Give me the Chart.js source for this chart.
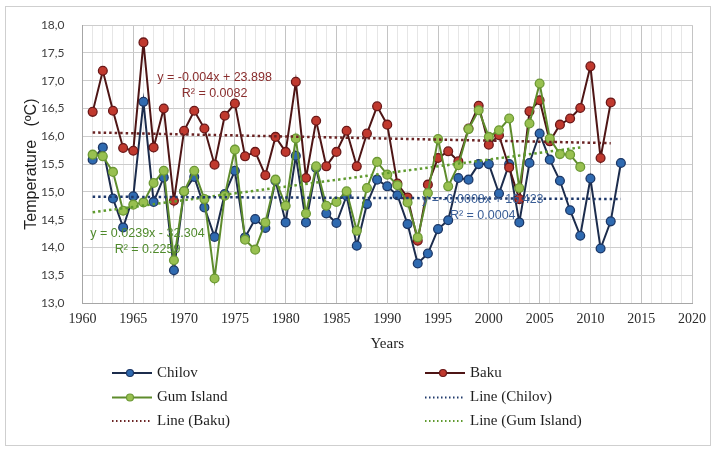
<!DOCTYPE html>
<html>
<head>
<meta charset="utf-8">
<script src="https://cdn.jsdelivr.net/npm/chart.js@4.4.1/dist/chart.umd.min.js"></script>
<style>
  html, body { margin: 0; padding: 0; background: #fff; }
</style>
</head>
<body>
<canvas id="myChart" width="714" height="450"></canvas>
<script>
// values (°C per year)
const years = [1961, 1962, 1963, 1964, 1965, 1966, 1967, 1968, 1969, 1970,
  1971, 1972, 1973, 1974, 1975, 1976, 1977, 1978, 1979, 1980,
  1981, 1982, 1983, 1984, 1985, 1986, 1987, 1988, 1989, 1990,
  1991, 1992, 1993, 1994, 1995, 1996, 1997, 1998, 1999, 2000,
  2001, 2002, 2003, 2004, 2005, 2006, 2007, 2008, 2009, 2010,
  2011, 2012, 2013];

const chilov = [15.58, 15.80, 14.88, 14.36, 14.92, 16.62, 14.82, 15.26, 13.59, 15.01,
  15.27, 14.72, 14.19, 14.96, 15.38, 14.18, 14.51, 14.35, 15.20, 14.45,
  15.65, 14.45, 15.43, 14.61, 14.44, 14.93, 14.03, 14.78, 15.22, 15.10,
  14.94, 14.42, 13.71, 13.89, 14.33, 14.49, 15.25, 15.22, 15.50, 15.50,
  14.97, 15.50, 14.45, 15.52, 16.05, 15.58, 15.20, 14.67, 14.21, 15.24,
  13.98, 14.47, 15.52];

const baku = [16.44, 17.18, 16.46, 15.79, 15.74, 17.69, 15.80, 16.50, 14.84, 16.10,
  16.46, 16.14, 15.49, 16.37, 16.59, 15.64, 15.72, 15.30, 15.99, 15.72,
  16.98, 15.25, 16.28, 15.46, 15.72, 16.10, 15.46, 16.05, 16.54, 16.21,
  15.15, 14.90, 14.12, 15.13, 15.61, 15.73, 15.55, 16.14, 16.55, 15.85,
  16.02, 15.44, 14.87, 16.45, 16.65, 15.91, 16.21, 16.32, 16.51, 17.26,
  15.61, 16.61];

const gumIsland = [15.67, 15.64, 15.36, 14.66, 14.77, 14.81, 15.16, 15.38, 13.77, 15.01,
  15.38, 14.87, 13.44, 14.93, 15.76, 14.14, 13.96, 14.45, 15.22, 14.75,
  15.96, 14.61, 15.46, 14.75, 14.82, 15.01, 14.30, 15.07, 15.54, 15.31,
  15.12, 14.81, 14.18, 14.98, 15.95, 15.10, 15.48, 16.13, 16.47, 15.99,
  16.11, 16.32, 15.07, 16.23, 16.95, 15.96, 15.68, 15.67, 15.45];

// trendline equation labels as printed on the figure
const trendText = [
  { lines: ['y = -0.004x + 23.898', 'R² = 0.0082'], x: 1973.0, y: 17.05, color: '#8a2e2e' },
  { lines: ['y = 0.0239x - 32.304', 'R² = 0.2259'], x: 1966.4, y: 14.25, color: '#4f8a2b' },
  { lines: ['y = -0.0008x + 16.423', 'R² = 0.0004'], x: 1999.4, y: 14.86, color: '#3a5e96' }
];

function points(vals) {
  return vals.map((v, i) => ({ x: years[i], y: v }));
}

// least squares line over the series' own years
function fitLine(vals) {
  const n = vals.length;
  const xs = years.slice(0, n);
  const mx = xs.reduce((a, b) => a + b, 0) / n;
  const my = vals.reduce((a, b) => a + b, 0) / n;
  let sxy = 0, sxx = 0;
  for (let i = 0; i < n; i++) {
    sxy += (xs[i] - mx) * (vals[i] - my);
    sxx += (xs[i] - mx) * (xs[i] - mx);
  }
  const b = sxy / sxx, a = my - b * mx;
  return [{ x: xs[0], y: a + b * xs[0] }, { x: xs[n - 1], y: a + b * xs[n - 1] }];
}

const seriesBase = { borderWidth: 2, pointRadius: 4.4, pointBorderWidth: 1.3, tension: 0 };
const trendBase = { borderWidth: 2.5, borderDash: [2.5, 3], pointRadius: 0, order: 0 };

const data = {
  datasets: [
    { ...seriesBase, label: 'Chilov', data: points(chilov), borderColor: '#1c2c4c',
      pointBackgroundColor: '#2f6ab0', pointBorderColor: '#1c3766', order: 3 },
    { ...seriesBase, label: 'Baku', data: points(baku), borderColor: '#4e1515',
      pointBackgroundColor: '#c0392e', pointBorderColor: '#6a1818', order: 2 },
    { ...seriesBase, label: 'Gum Island', data: points(gumIsland), borderColor: '#5e8c2c',
      pointBackgroundColor: '#98c050', pointBorderColor: '#6c9934', order: 1 },
    { ...trendBase, label: 'Line (Chilov)', data: fitLine(chilov), borderColor: '#1e386a' },
    { ...trendBase, label: 'Line (Baku)', data: fitLine(baku), borderColor: '#6a2323' },
    { ...trendBase, label: 'Line (Gum Island)', data: fitLine(gumIsland), borderColor: '#5f9a2e' }
  ]
};

// two-column legend under the axis, like the original
const legendSlots = {
  'Chilov': [112, 373], 'Baku': [425, 373],
  'Gum Island': [112, 397.5], 'Line (Chilov)': [425, 397.5],
  'Line (Baku)': [112, 421], 'Line (Gum Island)': [425, 421]
};

const framePlugin = {
  id: 'frame',
  beforeDraw(chart) {
    const ctx = chart.ctx;
    ctx.save();
    ctx.fillStyle = '#fff';
    ctx.fillRect(0, 0, chart.width, chart.height);
    ctx.strokeStyle = '#cfcfcf';
    ctx.lineWidth = 1;
    ctx.strokeRect(5.5, 6.5, 705, 439);
    ctx.restore();
  },
  afterDatasetsDraw(chart) {
    const ctx = chart.ctx, xs = chart.scales.x, ys = chart.scales.y;
    ctx.save();
    ctx.font = '12.5px "Liberation Sans", Arial, sans-serif';
    ctx.textAlign = 'center';
    ctx.textBaseline = 'middle';
    trendText.forEach(t => {
      const px = xs.getPixelForValue(t.x), py = ys.getPixelForValue(t.y);
      ctx.fillStyle = t.color;
      t.lines.forEach((s, i) => ctx.fillText(s, px, py + i * 16));
    });
    ctx.restore();
  },
  afterDraw(chart) {
    const ctx = chart.ctx;
    ctx.save();
    ctx.font = '15px "Liberation Serif", "Times New Roman", serif';
    ctx.textBaseline = 'middle';
    chart.data.datasets.forEach(ds => {
      const [lx, ly] = legendSlots[ds.label];
      ctx.strokeStyle = ds.borderColor;
      ctx.lineWidth = 2;
      ctx.setLineDash(ds.borderDash ? [1.5, 2.5] : []);
      ctx.beginPath();
      ctx.moveTo(lx, ly);
      ctx.lineTo(lx + 40, ly);
      ctx.stroke();
      ctx.setLineDash([]);
      if (ds.pointRadius) {
        ctx.beginPath();
        ctx.arc(lx + 18, ly, 3.5, 0, Math.PI * 2);
        ctx.fillStyle = ds.pointBackgroundColor;
        ctx.fill();
        ctx.lineWidth = 1.2;
        ctx.strokeStyle = ds.pointBorderColor;
        ctx.stroke();
      }
      ctx.fillStyle = '#1e1e1e';
      ctx.fillText(ds.label, lx + 45, ly);
    });
    ctx.restore();
  }
};

const config = {
  type: 'line',
  data,
  options: {
    responsive: false,
    animation: false,
    devicePixelRatio: 1,
    layout: { padding: { left: 0, right: 19.5, top: 22.5, bottom: 95 } },
    plugins: { legend: { display: false }, tooltip: { enabled: false } },
    scales: {
      x: {
        type: 'linear',
        min: 1960,
        max: 2020,
        afterFit: s => { s.height = 52; },
        ticks: {
          stepSize: 1,
          autoSkip: false,
          maxRotation: 0,
          padding: 8,
          color: '#2a2a2a',
          font: { family: '"Liberation Serif", "Times New Roman", serif', size: 14 },
          callback: v => (v % 5 === 0 ? String(v) : '')
        },
        grid: {
          drawTicks: false,
          color: c => (c.tick && c.tick.value % 5 === 0 ? '#c4c4c4' : '#e6e6e6')
        },
        border: { color: '#a6a6a6' },
        title: {
          display: true,
          text: 'Years',
          color: '#1e1e1e',
          padding: { top: 0, bottom: 2 },
          font: { family: '"Liberation Serif", "Times New Roman", serif', size: 15 }
        }
      },
      y: {
        min: 13,
        max: 18,
        afterFit: s => { s.width = 82.5; },
        ticks: {
          stepSize: 0.5,
          padding: 18,
          color: '#404040',
          font: { family: 'Lato, "Liberation Sans", sans-serif', size: 12 },
          callback: v => v.toFixed(1).replace('.', ',')
        },
        grid: { drawTicks: false, color: '#cdcdcd' },
        border: { color: '#a6a6a6' },
        title: {
          display: true,
          text: 'Temperature   (ºC)',
          color: '#1e1e1e',
          padding: { top: 22, bottom: 0 },
          font: { family: '"Liberation Sans", Arial, sans-serif', size: 16 }
        }
      }
    }
  },
  plugins: [framePlugin]
};

const myChart = new Chart(document.getElementById('myChart'), config);
</script>
</body>
</html>
